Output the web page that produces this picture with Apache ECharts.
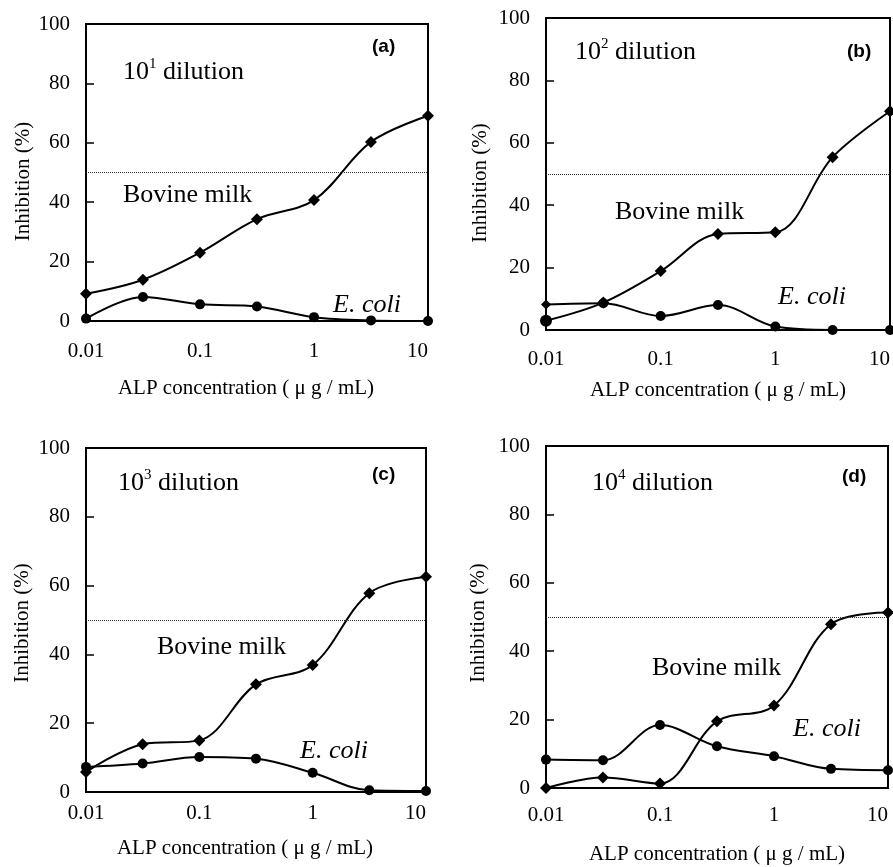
<!DOCTYPE html>
<html>
<head>
<meta charset="utf-8">
<script src="https://cdn.jsdelivr.net/npm/echarts@6/dist/echarts.min.js"></script>
<style>
  html, body { margin: 0; padding: 0; background: #fff; }
  #chart { width: 893px; height: 867px; }
</style>
</head>
<body>
<div id="chart"></div>
<script>
// ALP concentration (µg/mL), half-decade steps
const concentrations = [0.01, 0.0316, 0.1, 0.316, 1, 3.16, 10];

// inhibition (%)
const milkA = [9.2, 13.9, 23.0, 34.3, 40.7, 60.3, 69.1];
const coliA = [0.8, 8.1, 5.6, 4.9, 1.3, 0.2, 0];
const milkB = [3.0, 8.8, 18.9, 30.8, 31.3, 55.4, 70.1];
const coliB = [8.2, 8.6, 4.5, 8.0, 1.1, 0, 0];
const milkC = [5.8, 13.9, 15.0, 31.3, 36.9, 57.8, 62.6];
const coliC = [7.3, 8.3, 10.2, 9.7, 5.6, 0.5, 0.3];
const milkD = [0, 3.1, 1.3, 19.5, 24.1, 47.9, 51.3];
const coliD = [8.3, 8.1, 18.4, 12.2, 9.3, 5.6, 5.2];

const halfLine = 50;
const panelTags = ['(a)', '(b)', '(c)', '(d)'];
const dilutionPowers = ['1', '2', '3', '4'];
const milkSets = [milkA, milkB, milkC, milkD];
const coliSets = [coliA, coliB, coliC, coliD];
// in panel (b) the first two markers are drawn with swapped shapes
const swapFirstMarker = [false, true, false, false];

const serif = "'Liberation Serif', 'Times New Roman', serif";

// panel boxes: left, top, width, height
const boxes = [
  [86, 24, 342, 297],
  [546, 18, 347, 312],
  [86, 448, 340, 344],
  [546, 446, 342, 342]
];
const xNameGap = [57, 50, 46, 56];
const xNamePad = [[0, 22, 0, 0], [0, 0, 0, 0], [0, 22, 0, 0], [0, 0, 0, 0]];
const xLabelMargin = [20, 19, 11, 17];
const yNameGap = [52, 55, 53, 57];
const yNamePad = [[0, 18, 0, 0], [0, 18, 0, 0], [0, 6, 0, 0], [0, 12, 0, 0]];

// text positions inside each panel
const dilPos = [[123, 57], [575, 37], [118, 468], [592, 468]];
const tagPos = [[372, 37], [847, 42], [372, 465], [842, 467]];
const milkPos = [[123, 182], [615, 199], [157, 634], [652, 655]];
const coliPos = [[333, 292], [778, 284], [300, 738], [793, 716]];

const toPoints = (vals, shape, swap) => vals.map((v, i) => {
  const item = { value: [concentrations[i], v] };
  if (i === 0 && swap) item.symbol = shape;
  return item;
});

const grids = boxes.map((b) => ({
  left: b[0], top: b[1], width: b[2], height: b[3],
  show: true, borderColor: '#000', borderWidth: 2, backgroundColor: 'transparent'
}));

const xAxes = boxes.map((b, i) => ({
  type: 'log', logBase: 10, gridIndex: i, min: 0.01, max: 10,
  name: 'ALP concentration ( \u03bc g / mL)',
  nameLocation: 'middle', nameGap: xNameGap[i],
  nameTextStyle: { fontFamily: serif, fontSize: 21, color: '#000', padding: xNamePad[i] },
  axisLine: { lineStyle: { color: '#000', width: 1.5 } },
  axisTick: { show: false },
  minorTick: { show: false },
  splitLine: { show: false },
  axisLabel: {
    fontFamily: serif, fontSize: 21, color: '#000', margin: xLabelMargin[i],
    alignMaxLabel: 'right',
    formatter: (v) => String(parseFloat(Number(v).toPrecision(6)))
  }
}));

const yAxes = boxes.map((b, i) => ({
  type: 'value', gridIndex: i, min: 0, max: 100, interval: 20,
  name: 'Inhibition (%)',
  nameLocation: 'middle', nameGap: yNameGap[i],
  nameTextStyle: { fontFamily: serif, fontSize: 21, color: '#000', padding: yNamePad[i] },
  axisLine: { show: true, lineStyle: { color: '#000', width: 2 } },
  axisTick: { show: true, inside: true, length: 8, lineStyle: { color: '#000', width: 1.5 } },
  splitLine: { show: false },
  axisLabel: { fontFamily: serif, fontSize: 21, color: '#000', margin: 16 }
}));

const series = [];
for (let i = 0; i < 4; i++) {
  series.push({
    name: 'Bovine milk', type: 'line', xAxisIndex: i, yAxisIndex: i,
    data: toPoints(milkSets[i], 'circle', swapFirstMarker[i]), smooth: 0.35,
    symbol: 'diamond', symbolSize: 12,
    itemStyle: { color: '#000' },
    lineStyle: { color: '#000', width: 2 },
    markLine: {
      silent: true, symbol: 'none', label: { show: false },
      lineStyle: { type: 'dotted', color: '#333', width: 1 },
      data: [{ yAxis: halfLine }]
    }
  });
  series.push({
    name: 'E. coli', type: 'line', xAxisIndex: i, yAxisIndex: i,
    data: toPoints(coliSets[i], 'diamond', swapFirstMarker[i]), smooth: 0.35,
    symbol: 'circle', symbolSize: 10,
    itemStyle: { color: '#000' },
    lineStyle: { color: '#000', width: 2 }
  });
}

const graphics = [];
for (let i = 0; i < 4; i++) {
  graphics.push({
    type: 'text', x: dilPos[i][0], y: dilPos[i][1],
    style: {
      text: '{n|10}{s|' + dilutionPowers[i] + '}{n| dilution}',
      rich: {
        n: { fontFamily: serif, fontSize: 26, fill: '#000', verticalAlign: 'bottom', lineHeight: 28 },
        s: { fontFamily: serif, fontSize: 15, fill: '#000', verticalAlign: 'top', lineHeight: 28 }
      }
    }
  });
  graphics.push({
    type: 'text', x: tagPos[i][0], y: tagPos[i][1],
    style: { text: panelTags[i], font: "bold 19px 'Liberation Sans', Arial, sans-serif", fill: '#000' }
  });
  graphics.push({
    type: 'text', x: milkPos[i][0], y: milkPos[i][1],
    style: { text: 'Bovine milk', font: "26px 'Liberation Serif', 'Times New Roman', serif", fill: '#000' }
  });
  graphics.push({
    type: 'text', x: coliPos[i][0], y: coliPos[i][1],
    style: { text: 'E. coli', font: "italic 26px 'Liberation Serif', 'Times New Roman', serif", fill: '#000' }
  });
}

const chart = echarts.init(document.getElementById('chart'), null, { renderer: 'canvas' });
chart.setOption({
  animation: false,
  backgroundColor: '#fff',
  grid: grids,
  xAxis: xAxes,
  yAxis: yAxes,
  series: series,
  graphic: graphics
});
</script>
</body>
</html>
